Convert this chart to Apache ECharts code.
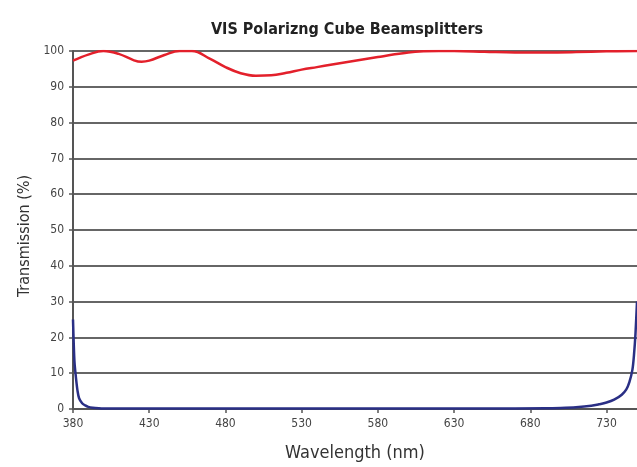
<!DOCTYPE html>
<html><head><meta charset="utf-8">
<script src="https://cdn.jsdelivr.net/npm/echarts@6/dist/echarts.min.js"></script>
<style>html,body{margin:0;padding:0;background:#fff}#c{width:637px;height:467px}</style>
</head><body><div id="c"></div>
<script>
const titleText = 'VIS Polarizng Cube Beamsplitters';
const xTicks = [380, 430, 480, 530, 580, 630, 680, 730];
const yTicks = [0, 10, 20, 30, 40, 50, 60, 70, 80, 90, 100];
// Red curve (nm, %)
const redNm  = [380,390,400,410,420,425,430,440,450,458,470,480,490,500,510,520,530,540,550,560,570,580,590,600,610,620,630,650,670,690,710,730,750];
const redVal = [97.3,99.0,100,99.2,97.4,97.0,97.3,98.9,100,100,97.8,95.5,93.8,93.1,93.2,93.9,94.8,95.5,96.2,96.9,97.6,98.3,99.0,99.6,99.9,100,100,99.8,99.6,99.6,99.7,99.9,100];
// Blue curve (nm, %)
const blueNm  = [380,380.5,381,382,383,384,386,388,390,393,397,400,450,500,550,600,650,690,700,710,720,725,730,735,740,743,745,747,748,749,750];
const blueVal = [25,18,13,8.5,5,3,1.6,1.0,0.6,0.35,0.2,0.15,0.15,0.15,0.15,0.15,0.15,0.2,0.3,0.5,0.9,1.3,1.8,2.6,4.0,5.5,7.5,11,15,21,30];

const zip = (a, b) => a.map((v, i) => [v, b[i]]);
const font = '"DejaVu Sans Condensed","Liberation Sans",sans-serif';
const chart = echarts.init(document.getElementById('c'));
chart.setOption({
  animation: false,
  title: { text: titleText, left: 342, textAlign: 'center', top: 17,
    textStyle: { fontFamily: font, fontWeight: 'bold', fontSize: 16, color: '#222' } },
  grid: { left: 73, right: 0, top: 51, bottom: 55, containLabel: false },
  xAxis: {
    type: 'value', min: 380, max: 750,
    name: 'Wavelength (nm)', nameLocation: 'middle', nameGap: 35,
    nameTextStyle: { fontFamily: font, fontSize: 18, color: '#333' },
    axisLine: { lineStyle: { color: '#555', width: 2 } },
    axisTick: { show: true, length: 4, customValues: xTicks, lineStyle: { color: '#555', width: 1.5 } },
    axisLabel: { customValues: xTicks, fontFamily: font, fontSize: 12, color: '#444', margin: 9 },
    splitLine: { show: false }
  },
  yAxis: {
    type: 'value', min: 0, max: 100, interval: 10,
    name: 'Transmission (%)', nameLocation: 'middle', nameGap: 37, nameRotate: 90,
    nameTextStyle: { fontFamily: font, fontSize: 16, color: '#333', padding: [0, 12, 0, 0] },
    axisLine: { show: true, lineStyle: { color: '#555', width: 2 } },
    axisTick: { show: true, length: 4, lineStyle: { color: '#555', width: 1.5 } },
    axisLabel: { fontFamily: font, fontSize: 12, color: '#444', margin: 9 },
    splitLine: { show: true, lineStyle: { color: '#666', width: 2 } }
  },
  series: [
    { type: 'line', data: zip(redNm, redVal), smooth: 0.4, showSymbol: false,
      lineStyle: { color: '#e3202b', width: 2.5 }, z: 3 },
    { type: 'line', data: zip(blueNm, blueVal), smooth: 0.3, showSymbol: false,
      lineStyle: { color: '#2a2f85', width: 2.5 }, z: 4 }
  ]
});
</script></body></html>
